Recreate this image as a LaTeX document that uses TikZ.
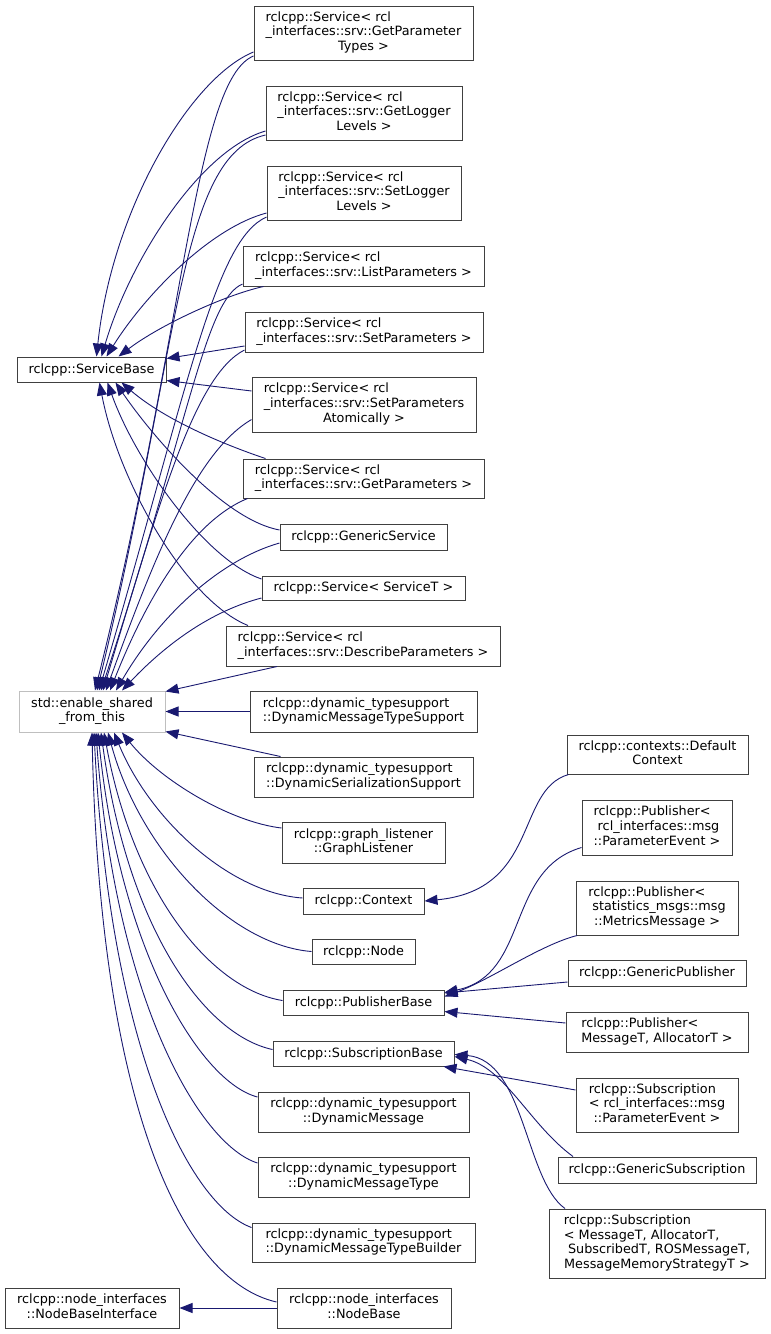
\documentclass[tikz,border=0pt]{standalone}
\usepackage{fontspec}
\setmainfont{DejaVu Sans}
\usetikzlibrary{arrows.meta}
\definecolor{edgeblue}{rgb}{0.098,0.098,0.439}
\definecolor{boxgray}{gray}{0.25}
\definecolor{extgray}{gray}{0.75}
\newcommand{\cls}[1]{\begin{tabular}{@{}l@{}}#1\end{tabular}}
\newcommand{\ctrline}[1]{\multicolumn{1}{@{}c@{}}{#1}}

\begin{document}
\begin{tikzpicture}[x=1pt,y=1pt,
	every node/.style={font=\fontsize{12.8}{14.7}\selectfont},
	classbox/.style={draw=boxgray, line width=1pt, fill=white, inner sep=0pt},
	extbox/.style={classbox, draw=extgray},
	link/.style={draw=edgeblue, line width=0.9pt, {Triangle[length=13pt,width=10pt]}-}]
	\useasboundingbox (0,0) rectangle (771,-1334);

	% left column
	\node[classbox, minimum width=149, minimum height=25] (sb) at (91.5,-369.5) {rclcpp::ServiceBase};
	\node[extbox, minimum width=146, minimum height=41] (esft) at (92,-711.5) {\cls{std::enable\_shared\\ \ctrline{\_from\_this}}};
	\node[classbox, minimum width=174, minimum height=40] (nbi) at (92,-1308) {\cls{rclcpp::node\_interfaces\\ \ctrline{::NodeBaseInterface}}};

	% middle column
	\node[classbox, minimum width=219, minimum height=54] (gpt) at (363.5,-33) {\cls{rclcpp::Service< rcl\\ \_interfaces::srv::GetParameter\\ \ctrline{Types >}}};
	\node[classbox, minimum width=196, minimum height=54] (gll) at (364,-113) {\cls{rclcpp::Service< rcl\\ \_interfaces::srv::GetLogger\\ \ctrline{Levels >}}};
	\node[classbox, minimum width=194, minimum height=54] (sll) at (364,-193) {\cls{rclcpp::Service< rcl\\ \_interfaces::srv::SetLogger\\ \ctrline{Levels >}}};
	\node[classbox, minimum width=241, minimum height=40] (lp) at (363.5,-266) {\cls{rclcpp::Service< rcl\\ \_interfaces::srv::ListParameters >}};
	\node[classbox, minimum width=238, minimum height=40] (sp) at (364,-332) {\cls{rclcpp::Service< rcl\\ \_interfaces::srv::SetParameters >}};
	\node[classbox, minimum width=224, minimum height=55] (spa) at (364,-404.5) {\cls{rclcpp::Service< rcl\\ \_interfaces::srv::SetParameters\\ \ctrline{Atomically >}}};
	\node[classbox, minimum width=241, minimum height=39] (gp) at (363.5,-478.5) {\cls{rclcpp::Service< rcl\\ \_interfaces::srv::GetParameters >}};
	\node[classbox, minimum width=167, minimum height=26] (gs) at (363.5,-537) {rclcpp::GenericService};
	\node[classbox, minimum width=203, minimum height=24] (st) at (363.5,-588) {rclcpp::Service< ServiceT >};
	\node[classbox, minimum width=274, minimum height=40] (dp) at (363,-646) {\cls{rclcpp::Service< rcl\\ \_interfaces::srv::DescribeParameters >}};
	\node[classbox, minimum width=227, minimum height=41] (dmts) at (363.5,-711.5) {\cls{rclcpp::dynamic\_typesupport\\ \ctrline{::DynamicMessageTypeSupport}}};
	\node[classbox, minimum width=219, minimum height=40] (dss) at (363.5,-777) {\cls{rclcpp::dynamic\_typesupport\\ \ctrline{::DynamicSerializationSupport}}};
	\node[classbox, minimum width=163, minimum height=41] (gl) at (363.5,-842.5) {\cls{rclcpp::graph\_listener\\ \ctrline{::GraphListener}}};
	\node[classbox, minimum width=121, minimum height=26] (ctx) at (363.5,-901) {rclcpp::Context};
	\node[classbox, minimum width=103, minimum height=25] (node) at (363.5,-951.5) {rclcpp::Node};
	\node[classbox, minimum width=161, minimum height=25] (pb) at (363.5,-1002.5) {rclcpp::PublisherBase};
	\node[classbox, minimum width=181, minimum height=25] (sub) at (363.5,-1053.5) {rclcpp::SubscriptionBase};
	\node[classbox, minimum width=211, minimum height=40] (dm) at (363.5,-1112) {\cls{rclcpp::dynamic\_typesupport\\ \ctrline{::DynamicMessage}}};
	\node[classbox, minimum width=211, minimum height=40] (dmt) at (363.5,-1177) {\cls{rclcpp::dynamic\_typesupport\\ \ctrline{::DynamicMessageType}}};
	\node[classbox, minimum width=223, minimum height=39] (dmtb) at (363.5,-1242.5) {\cls{rclcpp::dynamic\_typesupport\\ \ctrline{::DynamicMessageTypeBuilder}}};
	\node[classbox, minimum width=174, minimum height=40] (nb) at (364,-1308) {\cls{rclcpp::node\_interfaces\\ \ctrline{::NodeBase}}};

	% right column
	\node[classbox, minimum width=181, minimum height=39] (dc) at (657.5,-754.5) {\cls{rclcpp::contexts::Default\\ \ctrline{Context}}};
	\node[classbox, minimum width=150, minimum height=55] (ppe) at (657,-827.5) {\cls{rclcpp::Publisher<\\ \ rcl\_interfaces::msg\\ \ctrline{::ParameterEvent >}}};
	\node[classbox, minimum width=162, minimum height=54] (pmm) at (657,-908) {\cls{rclcpp::Publisher<\\ \ statistics\_msgs::msg\\ \ctrline{::MetricsMessage >}}};
	\node[classbox, minimum width=178, minimum height=26] (gpub) at (657,-973) {rclcpp::GenericPublisher};
	\node[classbox, minimum width=182, minimum height=40] (pma) at (657,-1032) {\cls{rclcpp::Publisher<\\ \ctrline{MessageT, AllocatorT >}}};
	\node[classbox, minimum width=162, minimum height=54] (spe) at (657,-1105) {\cls{rclcpp::Subscription\\ < rcl\_interfaces::msg\\ \ctrline{::ParameterEvent >}}};
	\node[classbox, minimum width=198, minimum height=26] (gsub) at (657,-1170) {rclcpp::GenericSubscription};
	\node[classbox, minimum width=216, minimum height=69] (smt) at (657,-1243.5) {\cls{rclcpp::Subscription\\ < MessageT, AllocatorT,\\ \ SubscribedT, ROSMessageT,\\ \ctrline{MessageMemoryStrategyT >}}};

	% ServiceBase
	\draw[link] ([xshift=5]sb.north) .. controls (112,-210) and (190,-78) .. ([yshift=-19]gpt.west);
	\draw[link] ([xshift=10]sb.north) .. controls (130,-260) and (200,-150) .. ([yshift=-18]gll.west);
	\draw[link] ([xshift=15]sb.north) .. controls (145,-295) and (210,-228) .. ([yshift=-20]sll.west);
	\draw[link] ([xshift=27]sb.north) .. controls (160,-325) and (225,-295) .. ([xshift=-100]lp.south);
	\draw[link] ([yshift=11]sb.east) -- ([yshift=-14]sp.west);
	\draw[link] ([yshift=-11]sb.east) -- ([yshift=13.5]spa.west);
	\draw[link] ([xshift=30]sb.south) .. controls (165,-420) and (225,-445) .. ([xshift=-98]gp.north);
	\draw[link] ([xshift=24]sb.south) .. controls (155,-440) and (225,-520) .. ([yshift=7]gs.west);
	\draw[link] ([xshift=16]sb.south) .. controls (135,-460) and (205,-560) .. ([yshift=9]st.west);
	\draw[link] ([xshift=8]sb.south) .. controls (118,-480) and (185,-600) .. ([xshift=-115]dp.north);

	% enable_shared_from_this
	\draw[link] ([xshift=3]esft.north) .. controls (185,-330) and (195,-80) .. ([yshift=-23]gpt.west);
	\draw[link] ([xshift=5]esft.north) .. controls (180,-350) and (178,-155) .. ([yshift=-22]gll.west);
	\draw[link] ([xshift=7]esft.north) .. controls (190,-380) and (215,-240) .. ([yshift=-24]sll.west);
	\draw[link] ([xshift=9]esft.north) .. controls (190,-420) and (205,-300) .. ([yshift=-18]lp.west);
	\draw[link] ([xshift=11]esft.north) .. controls (160,-500) and (195,-375) .. ([yshift=-18]sp.west);
	\draw[link] ([xshift=14]esft.north) .. controls (160,-540) and (200,-450) .. ([yshift=-15]spa.west);
	\draw[link] ([xshift=18]esft.north) .. controls (150,-590) and (195,-520) .. ([xshift=-116]gp.south);
	\draw[link] ([xshift=24]esft.north) .. controls (160,-615) and (220,-560) .. ([yshift=-6]gs.west);
	\draw[link] ([xshift=30]esft.north) .. controls (170,-640) and (215,-610) .. ([yshift=-10]st.west);
	\draw[link] ([yshift=-1]esft.north east) -- ([xshift=-86]dp.south);
	\draw[link] (esft.east) -- (dmts.west);
	\draw[link] ([yshift=1]esft.south east) -- ([xshift=-83]dss.north);
	\draw[link] ([xshift=30]esft.south) .. controls (160,-780) and (230,-822) .. ([yshift=14.5]gl.west);
	\draw[link] ([xshift=22]esft.south) .. controls (150,-820) and (230,-893) .. ([yshift=3]ctx.west);
	\draw[link] ([xshift=16]esft.south) .. controls (140,-850) and (230,-945) .. (node.west);
	\draw[link] ([xshift=12]esft.south) .. controls (135,-900) and (215,-990) .. ([yshift=2]pb.west);
	\draw[link] ([xshift=9]esft.south) .. controls (128,-930) and (205,-1035) .. ([yshift=4]sub.west);
	\draw[link] ([xshift=6]esft.south) .. controls (120,-950) and (200,-1082) .. ([yshift=15]dm.west);
	\draw[link] ([xshift=4]esft.south) .. controls (115,-1000) and (200,-1145) .. ([yshift=14]dmt.west);
	\draw[link] ([xshift=2]esft.south) .. controls (110,-1050) and (190,-1205) .. ([yshift=15]dmtb.west);
	\draw[link] (esft.south) .. controls (100,-1100) and (180,-1280) .. ([yshift=6]nb.west);

	% Context, PublisherBase, SubscriptionBase
	\draw[link] (ctx.east) .. controls (540,-890) and (515,-790) .. ([xshift=-89]dc.south);
	\draw[link] ([yshift=10]pb.east) .. controls (530,-975) and (505,-870) .. ([yshift=-20]ppe.west);
	\draw[link] ([yshift=6]pb.east) .. controls (490,-980) and (540,-945) .. ([xshift=-80]pmm.south);
	\draw[link] ([yshift=9.5]pb.east) -- ([yshift=-9]gpub.west);
	\draw[link] ([yshift=-9]pb.east) -- ([yshift=9]pma.west);
	\draw[link] ([xshift=80]sub.south) -- ([yshift=15]spe.west);
	\draw[link] ([yshift=-3]sub.east) .. controls (505,-1068) and (530,-1125) .. ([xshift=-84]gsub.north);
	\draw[link] ([yshift=-1]sub.east) .. controls (525,-1060) and (525,-1180) .. ([xshift=-92]smt.north);

	% NodeBaseInterface
	\draw[link] (nbi.east) -- (nb.west);
\end{tikzpicture}
\end{document}
